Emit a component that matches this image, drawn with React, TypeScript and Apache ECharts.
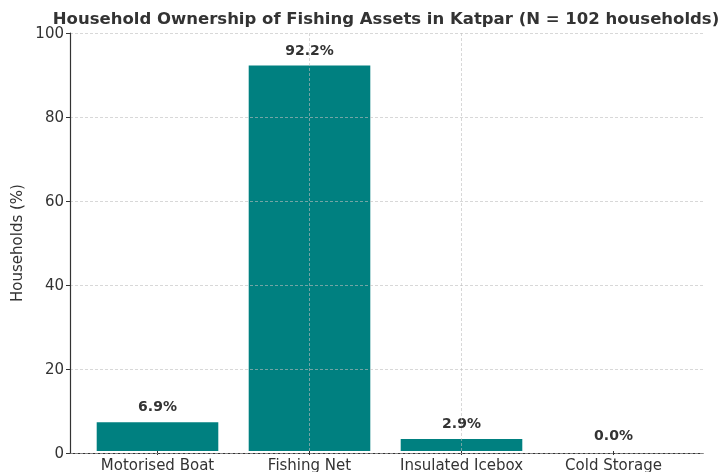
import React, { useEffect, useRef } from "react";
import * as echarts from "echarts";

const categories = ["Motorised Boat", "Fishing Net", "Insulated Icebox", "Cold Storage"];
const values = [6.9, 92.2, 2.9, 0.0];
const yTicks = { min: 0, max: 100, interval: 20 };
const categoryCentres = [0.5, 1.5, 2.5, 3.5];
const titleText = "Household Ownership of Fishing Assets in Katpar (N = 102 households)";
const yName = "Households (%)";

const FONT = "DejaVu Sans";
const TEXT = "#333333";
const GRIDLINE = "rgba(190,190,190,0.6)";

export default function App() {
  const ref = useRef<HTMLDivElement>(null);
  useEffect(() => {
    if (!ref.current) return;
    const chart = echarts.init(ref.current, undefined, { renderer: "svg" });
    chart.setOption({
      animation: false,
      textStyle: { fontFamily: FONT },
      graphic: [
        {
          type: "text",
          x: 386,
          y: 10,
          style: {
            text: titleText,
            fontFamily: FONT,
            fontWeight: "bold",
            fontSize: 16.5,
            fill: TEXT,
            textAlign: "center",
            textVerticalAlign: "top",
          },
        },
      ],
      grid: [
        { left: 70, right: 22, top: 33, bottom: 19 },
        { left: 81.5, right: 35.5, top: 33, bottom: 19 },
      ],
      xAxis: [
        {
          type: "value",
          gridIndex: 0,
          min: 0,
          max: 1,
          axisLine: { show: true, lineStyle: { color: TEXT, width: 1.2 } },
          axisTick: { show: false },
          axisLabel: { show: false },
          splitLine: { show: false, showMinLine: false, showMaxLine: false },
        },
        {
          type: "category",
          gridIndex: 1,
          data: categories,
          axisLine: { show: false },
          axisTick: { show: true, alignWithLabel: true, length: 4, lineStyle: { color: TEXT } },
          axisLabel: { color: TEXT, fontSize: 15, fontFamily: FONT, margin: 6, interval: 0 },
          splitLine: { show: false },
        },
        {
          type: "value",
          gridIndex: 1,
          min: 0,
          max: 4,
          z: 5,
          axisLine: { show: false },
          axisTick: { show: false, customValues: categoryCentres },
          axisLabel: { show: false, customValues: categoryCentres },
          splitLine: {
            show: true,
            showMinLine: false,
            showMaxLine: false,
            lineStyle: { color: GRIDLINE, type: [3, 2], width: 1 },
          },
        },
      ],
      yAxis: [
        {
          type: "value",
          gridIndex: 0,
          min: yTicks.min,
          max: yTicks.max,
          interval: yTicks.interval,
          z: 5,
          name: yName,
          nameLocation: "middle",
          nameGap: 44,
          nameTextStyle: { color: TEXT, fontSize: 15, fontFamily: FONT },
          axisLine: { show: true, lineStyle: { color: TEXT, width: 1.2 } },
          axisTick: { show: true, length: 4, lineStyle: { color: TEXT } },
          axisLabel: { color: TEXT, fontSize: 15, fontFamily: FONT, margin: 6 },
          splitLine: { show: true, lineStyle: { color: GRIDLINE, type: [3, 2], width: 1 } },
        },
        {
          type: "value",
          gridIndex: 1,
          min: yTicks.min,
          max: yTicks.max,
          show: false,
          splitLine: { show: false },
        },
      ],
      series: [
        {
          type: "bar",
          xAxisIndex: 1,
          yAxisIndex: 1,
          data: values,
          barCategoryGap: "20%",
          itemStyle: { color: "#008080" },
          label: {
            show: true,
            position: "top",
            distance: 9,
            formatter: (p: any) => p.value.toFixed(1) + "%",
            color: TEXT,
            fontWeight: "bold",
            fontSize: 14,
            fontFamily: FONT,
          },
        },
      ],
    });
    return () => chart.dispose();
  }, []);
  return <div ref={ref} style={{ width: 725, height: 472, position: "fixed", left: 0, top: 0 }} />;
}
